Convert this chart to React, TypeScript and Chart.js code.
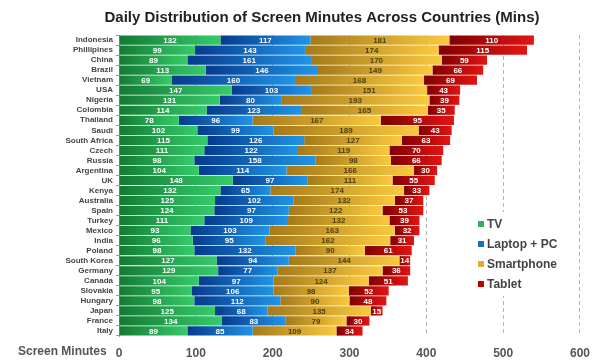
import React, { useEffect, useRef } from "react";
import { Chart, registerables } from "chart.js";

Chart.register(...registerables);

const countries = [
  "Indonesia", "Phillipines", "China", "Brazil", "Vietnam", "USA", "Nigeria", "Colombia",
  "Thailand", "Saudi", "South Africa", "Czech", "Russia", "Argentina", "UK", "Kenya",
  "Australia", "Spain", "Turkey", "Mexico", "India", "Poland", "South Korea", "Germany",
  "Canada", "Slovakia", "Hungary", "Japan", "France", "Italy",
];
const tv = [132, 99, 89, 113, 69, 147, 131, 114, 78, 102, 115, 111, 98, 104, 148, 132, 125, 124, 111, 93, 96, 98, 127, 129, 104, 95, 98, 125, 134, 89];
const laptop = [117, 143, 161, 146, 160, 103, 80, 123, 96, 99, 126, 122, 158, 114, 97, 65, 102, 97, 109, 103, 95, 132, 94, 77, 97, 106, 112, 68, 83, 85];
const smartphone = [181, 174, 170, 149, 168, 151, 193, 165, 167, 189, 127, 119, 98, 166, 111, 174, 132, 122, 132, 163, 162, 90, 144, 137, 124, 98, 90, 135, 79, 109];
const tablet = [110, 115, 59, 66, 69, 43, 39, 35, 95, 43, 63, 70, 66, 30, 55, 33, 37, 53, 39, 32, 31, 61, 14, 36, 51, 52, 48, 15, 30, 34];
const seriesNames = ["TV", "Laptop + PC", "Smartphone", "Tablet"];
const xTicks = [0, 100, 200, 300, 400, 500, 600];

const series = [tv, laptop, smartphone, tablet];
const gradStops = [
  ["#147a35", "#36cb6a"],
  ["#063a8c", "#2194e6"],
  ["#a47a1a", "#fbc93f"],
  ["#800000", "#e41414"],
];
const legendColors = ["#2db35a", "#1a6fc4", "#e2aa32", "#c00000"];
const labelColors = ["#ffffff", "#ffffff", "#4d3f14", "#ffffff"];
const FONT = "Arial, 'Liberation Sans', sans-serif";

const overlayPlugin = {
  id: "overlay",
  beforeDatasetsDraw(chart: any) {
    const ctx = chart.ctx;
    chart.data.datasets.forEach((_ds: any, di: number) => {
      const meta = chart.getDatasetMeta(di);
      meta.data.forEach((bar: any) => {
        const x0 = Math.min(bar.base, bar.x);
        const x1 = Math.max(bar.base, bar.x);
        if (!isFinite(x0) || !isFinite(x1) || x1 <= x0) return;
        const g = ctx.createLinearGradient(x0, 0, x1, 0);
        g.addColorStop(0, gradStops[di][0]);
        g.addColorStop(1, gradStops[di][1]);
        try {
          bar.options.backgroundColor = g;
        } catch (e) {
          /* ignore */
        }
      });
    });
  },
  afterDatasetsDraw(chart: any) {
    const ctx = chart.ctx;
    ctx.save();
    ctx.font = `bold 8px ${FONT}`;
    ctx.textAlign = "center";
    ctx.textBaseline = "middle";
    chart.data.datasets.forEach((ds: any, di: number) => {
      const meta = chart.getDatasetMeta(di);
      meta.data.forEach((bar: any, i: number) => {
        ctx.fillStyle = labelColors[di];
        ctx.fillText(String(ds.data[i]), (bar.x + bar.base) / 2, bar.y + 0.5);
      });
    });
    ctx.restore();
  },
  afterDraw(chart: any) {
    const ctx = chart.ctx;
    ctx.save();
    ctx.font = `bold 15px ${FONT}`;
    ctx.fillStyle = "#222222";
    ctx.textAlign = "center";
    ctx.textBaseline = "middle";
    ctx.fillText("Daily Distribution of Screen Minutes Across Countries (Mins)", 322, 18);
    ctx.font = `bold 12px ${FONT}`;
    ctx.fillStyle = "#555555";
    ctx.textAlign = "left";
    ctx.fillText("Screen Minutes", 18, 352);
    ctx.fillStyle = "#ffffff";
    ctx.fillRect(474, 212, 86, 84);
    ctx.font = `bold 12px ${FONT}`;
    seriesNames.forEach((name, i) => {
      const y = 224 + i * 20;
      ctx.fillStyle = legendColors[i];
      ctx.fillRect(478, y - 3, 6, 6);
      ctx.fillStyle = "#444444";
      ctx.textAlign = "left";
      ctx.textBaseline = "middle";
      ctx.fillText(name, 487, y + 0.5);
    });
    ctx.restore();
  },
};

export default function App() {
  const ref = useRef<HTMLCanvasElement>(null);
  useEffect(() => {
    if (!ref.current) return;
    const chart = new Chart(ref.current, {
      type: "bar",
      data: {
        labels: countries,
        datasets: series.map((d, di) => ({
          label: seriesNames[di],
          data: d,
          backgroundColor: (c: any) => (c && c.dataIndex >= 0 ? gradStops[di][1] : gradStops[di][1]),
          borderWidth: 0,
          barPercentage: 0.92,
          categoryPercentage: 1,
        })),
      },
      options: {
        indexAxis: "y",
        responsive: false,
        animation: false,
        layout: { padding: { left: 0, top: 35, right: 12, bottom: 0 } },
        plugins: { legend: { display: false }, title: { display: false }, tooltip: { enabled: false } },
        scales: {
          x: {
            stacked: true,
            min: 0,
            max: 600,
            afterFit: (s: any) => { s.height = 25; },
            afterBuildTicks: (s: any) => { s.ticks = xTicks.map((v) => ({ value: v })); },
            grid: { color: "#b5b5b5", drawTicks: false, tickLength: 0, lineWidth: 1 },
            border: { display: false, dash: [4, 3] },
            ticks: { padding: 10, color: "#555555", font: { family: FONT, size: 12, weight: "bold" } },
          },
          y: {
            stacked: true,
            afterFit: (s: any) => { s.width = 119; },
            grid: { drawOnChartArea: false, drawTicks: true, tickLength: 3, color: "#999999" },
            border: { display: true, color: "#999999" },
            ticks: { padding: 3, color: "#444444", autoSkip: false, font: { family: FONT, size: 8, weight: "bold" } },
          },
        },
      },
      plugins: [overlayPlugin],
    } as any);
    return () => chart.destroy();
  }, []);
  return (
    <div style={{ position: "fixed", left: 0, top: 0, width: 600, height: 361, background: "#fff" }}>
      <canvas ref={ref} width={600} height={361} style={{ display: "block" }} />
    </div>
  );
}
